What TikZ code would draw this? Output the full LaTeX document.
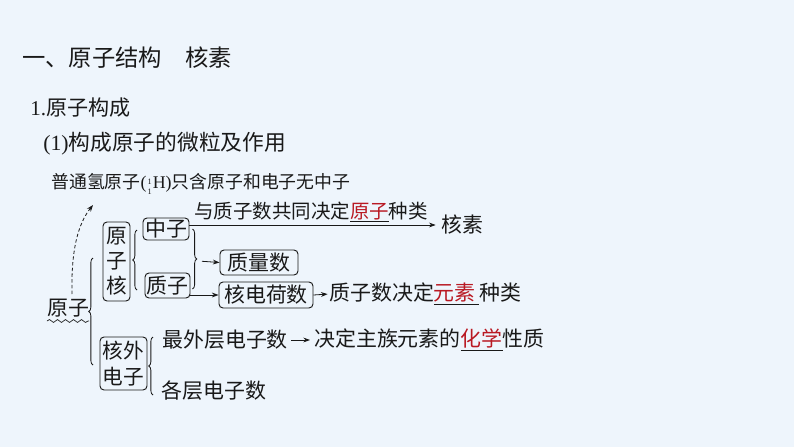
\documentclass[tikz,border=0pt]{standalone}
\usepackage{fontspec}
\setmainfont{Noto Sans CJK SC}
\newfontfamily\lat{Liberation Serif}
\usetikzlibrary{decorations.pathreplacing,decorations.pathmorphing,arrows.meta}
\definecolor{bgc}{RGB}{238,245,252}
\definecolor{keyred}{RGB}{185,25,35}
\definecolor{ink}{RGB}{25,25,25}
\newcommand\fillin[1]{\underline{\textcolor{keyred}{#1}}}
\newcommand\dfont{\fontsize{15.7}{18.75}\selectfont}
\newcommand\nuc{\kern0.8pt\raisebox{-0.3em}{\lat\fontsize{6.2}{8.6}\selectfont\shortstack{1\\1}}\kern0.8pt}
\begin{document}
\begin{tikzpicture}[x=0.75pt,y=-0.75pt,
  txt/.style={inner sep=0pt, anchor=west, text=ink, font=\dfont},
  box/.style={draw=ink, rounded corners=3pt, line width=0.7pt, inner sep=0pt, text=ink, font=\dfont, align=center},
  arr/.style={draw=ink, line width=0.6pt, -{Stealth[length=5pt,width=3.6pt]}},
  brc/.style={draw=ink, line width=0.6pt, decorate, decoration={brace, amplitude=3.2pt, aspect=0.5}},
]
\useasboundingbox (0,0) rectangle (794,447);
\fill[bgc] (0,0) rectangle (794,447);

% headings
\node[txt, font=\fontsize{17.5}{20}\selectfont] (title) at (22,58) {一、原子结构　核素};
\node[txt, font=\fontsize{15.8}{19}\selectfont] (sec1) at (30,108) {{\lat 1.}原子构成};
\node[txt, font=\fontsize{16.3}{19}\selectfont] (sub1) at (43,144) {{\lat (1)}构成原子的微粒及作用};

% handwritten note
\node[txt, font=\fontsize{13.4}{15}\selectfont] (note) at (51,184) {普通氢原子{\lat(}\nuc{\lat H)}只含原子和电子无中子};

% atom
\node[txt] (yuanzi) at (47,308) {原子};
\draw[ink, line width=0.5pt, decorate, decoration={snake, amplitude=1.1pt, segment length=6pt}]
  (47,321) -- (89,321);
\coordinate (dstart) at (72,294);
\coordinate (dend) at (93,205);
\draw[arr, dash pattern=on 2.5pt off 1.8pt] (dstart) .. controls (71,250) and (78,224) .. (dend);

% boxes
\node[box, minimum width=20.25pt, minimum height=59.25pt, font=\fontsize{15.5}{18.75}\selectfont] (yzh) at (116.5,261.5) {原\\子\\核};
\node[box, minimum width=34.5pt, minimum height=16.5pt] (zhongzi) at (166,229) {中子};
\node[box, minimum width=33.75pt, minimum height=18.75pt] (zhizi) at (167.5,285.5) {质子};
\node[box, minimum width=58.5pt, minimum height=18.75pt] (zhiliang) at (259,262.5) {质量数};
\node[box, minimum width=70.5pt, minimum height=19.5pt] (hedian) at (266,295) {核电荷数};
\node[box, minimum width=35.25pt, minimum height=39.75pt, font=\fontsize{15.5}{20}\selectfont] (hewai) at (123.5,363.5) {核外\\电子};

% texts
\node[txt, font=\fontsize{14.6}{18}\selectfont] (gongtong) at (194,212) {与质子数共同决定\fillin{原子}种类};
\node[txt] (hesu) at (441,225) {核素};
\node[txt] (zhizishu) at (329,294) {质子数决定\fillin{元素\,}种类};
\node[txt] (zuiwai) at (162,340) {最外层电子数};
\node[txt] (jueding) at (314,340) {决定主族元素的\fillin{化学}性质};
\node[txt] (gecheng) at (161,391) {各层电子数};

% braces
\draw[brc] (93,365) -- (93,258);
\draw[brc] (137,290) -- (137,230);
\draw[brc] (192.5,229) -- (192.5,289);
\draw[brc] (153,395) -- (153,337);
\coordinate (rbtip) at (198,261);

% connectors
\draw[arr, shorten >=4pt] (zhongzi.east |- hesu.west) -- (hesu.west);
\draw[arr, shorten <=3pt] (rbtip) -- (zhiliang.west);
\draw[arr] (zhizi.east |- hedian.west) -- (hedian.west);
\draw[arr, shorten >=1pt] (hedian.east) -- (zhizishu.west);
\draw[arr, shorten <=2pt, shorten >=3pt] (zuiwai.east) -- (jueding.west);
\end{tikzpicture}
\end{document}
